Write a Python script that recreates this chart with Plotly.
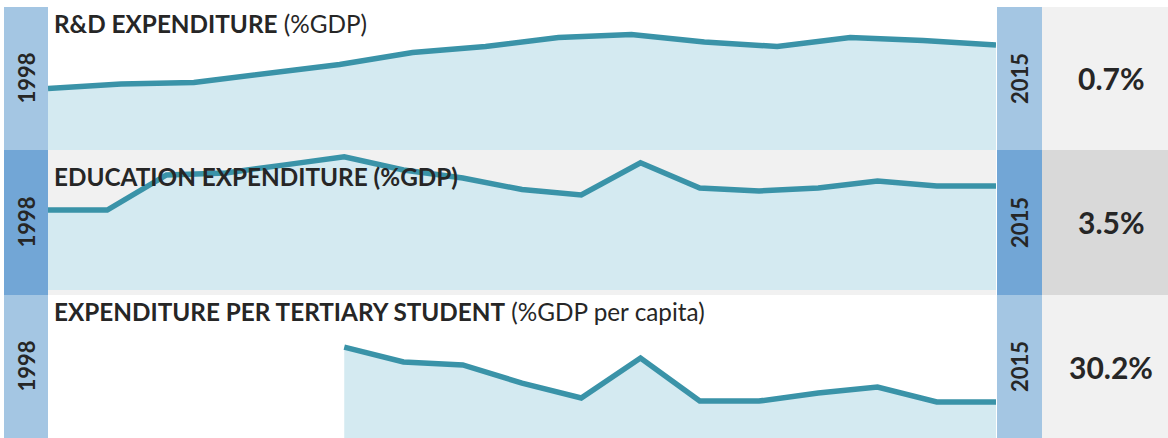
import plotly.graph_objects as go

W, H = 1168, 438

# ---- data ----
rd_years = list(range(2002, 2016))
rd_values = [0.41, 0.44, 0.45, 0.51, 0.57, 0.65, 0.69, 0.75, 0.77, 0.72, 0.69, 0.75, 0.73, 0.70]

edu_years = list(range(1999, 2016))
edu_values = [2.69, 2.69, 3.87, 3.94, 4.21, 4.48, 4.04, 3.77, 3.38, 3.20, 4.28, 3.43, 3.33, 3.43, 3.67, 3.50, 3.50]

ter_years = list(range(1999, 2016))
ter_values = [None, None, None, None, None, 76.3, 63.8, 61.3, 46.1, 33.6, 67.1, 31.0, 31.0, 37.7, 42.8, 30.2, 30.2]

titles_bold = ["R&D EXPENDITURE", "EDUCATION EXPENDITURE (%GDP)", "EXPENDITURE PER TERTIARY STUDENT"]
titles_reg = [" (%GDP)", "", " (%GDP per capita)"]
start_labels = ["1998", "1998", "1998"]
end_labels = ["2015", "2015", "2015"]
latest = ["0.7%", "3.5%", "30.2%"]
y_max = [0.953, 4.71, 120.0]

# ---- layout geometry (pixels) ----
rows = [(7, 150, 150), (150, 295, 290), (295, 438, 438)]  # top, bottom, plot-bottom
title_y = [23, 176, 311]
strip_col = ["#a4c6e3", "#72a6d6", "#a4c6e3"]
box_col = ["#f1f1f1", "#d9d9d9", "#f1f1f1"]
plot_bg = ["#ffffff", "#f1f1f1", "#ffffff"]

LINE = "#3a93a8"
FILL = "#d4eaf1"
TXT = "#262626"

def px(x):
    return x / W

def py(y):
    return 1 - y / H

fig = go.Figure()
series = [(rd_years, rd_values), (edu_years, edu_values), (ter_years, ter_values)]
shapes = []
annotations = []
for i, ((xs, ys), (top, bot, pbot)) in enumerate(zip(series, rows)):
    n = i + 1
    xa = "x" if n == 1 else f"x{n}"
    ya = "y" if n == 1 else f"y{n}"
    fig.add_trace(go.Scatter(
        x=xs, y=ys, xaxis=xa, yaxis=ya, mode="lines",
        line=dict(color=LINE, width=5.5), fill="tozeroy", fillcolor=FILL,
        connectgaps=False, hoverinfo="skip", showlegend=False))
    xkey = "xaxis" if n == 1 else f"xaxis{n}"
    ykey = "yaxis" if n == 1 else f"yaxis{n}"
    fig.update_layout(**{
        xkey: dict(domain=[px(48), px(996)], range=[xs[0], xs[-1]], visible=False,
                   anchor=ya, fixedrange=True),
        ykey: dict(domain=[py(pbot), py(top)], range=[0, y_max[i]], visible=False,
                   anchor=xa, fixedrange=True),
    })
    # backgrounds
    shapes.append(dict(type="rect", xref="paper", yref="paper", layer="below",
                       x0=px(48), x1=px(996), y0=py(bot), y1=py(top),
                       fillcolor=plot_bg[i], line_width=0))
    shapes.append(dict(type="rect", xref="paper", yref="paper", layer="below",
                       x0=px(4), x1=px(48), y0=py(bot), y1=py(top),
                       fillcolor=strip_col[i], line_width=0))
    shapes.append(dict(type="rect", xref="paper", yref="paper", layer="below",
                       x0=px(997), x1=px(1042), y0=py(bot), y1=py(top),
                       fillcolor=strip_col[i], line_width=0))
    shapes.append(dict(type="rect", xref="paper", yref="paper", layer="below",
                       x0=px(1042), x1=px(1168), y0=py(bot), y1=py(top),
                       fillcolor=box_col[i], line_width=0))
    mid = (top + bot) / 2
    annotations.append(dict(xref="paper", yref="paper", x=px(52), y=py(title_y[i]),
                            xanchor="left", yanchor="middle", showarrow=False,
                            text=f"<b>{titles_bold[i]}</b>{titles_reg[i]}",
                            font=dict(family="Lato", size=24.3, color=TXT)))
    annotations.append(dict(xref="paper", yref="paper", x=px(26), y=py(mid),
                            xanchor="center", yanchor="middle", showarrow=False,
                            textangle=-90, text=f"<b>{start_labels[i]}</b>",
                            font=dict(family="Lato", size=22, color=TXT)))
    annotations.append(dict(xref="paper", yref="paper", x=px(1019.5), y=py(mid),
                            xanchor="center", yanchor="middle", showarrow=False,
                            textangle=-90, text=f"<b>{end_labels[i]}</b>",
                            font=dict(family="Lato", size=22, color=TXT)))
    annotations.append(dict(xref="paper", yref="paper", x=px(1111), y=py(mid),
                            xanchor="center", yanchor="middle", showarrow=False,
                            text=f"<b>{latest[i]}</b>",
                            font=dict(family="Lato", size=30, color=TXT)))

fig.update_layout(width=W, height=H, margin=dict(l=0, r=0, t=0, b=0, pad=0),
                  paper_bgcolor="#ffffff", plot_bgcolor="rgba(0,0,0,0)",
                  shapes=shapes, annotations=annotations, showlegend=False)

fig.write_html("out.html", config={"displayModeBar": False},
               post_script="document.body.style.margin='0';document.body.style.overflow='hidden';")
